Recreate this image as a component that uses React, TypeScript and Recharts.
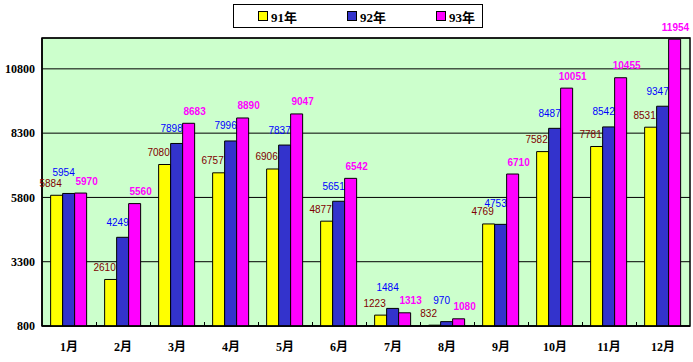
import React from "react";
import { BarChart, Bar, XAxis, YAxis, CartesianGrid, LabelList, Legend, ReferenceArea } from "recharts";

const months = ["1月", "2月", "3月", "4月", "5月", "6月", "7月", "8月", "9月", "10月", "11月", "12月"];
const y91 = [5884, 2610, 7080, 6757, 6906, 4877, 1223, 832, 4769, 7582, 7781, 8531];
const y92 = [5954, 4249, 7898, 7996, 7837, 5651, 1484, 970, 4753, 8487, 8542, 9347];
const y93 = [5970, 5560, 8683, 8890, 9047, 6542, 1313, 1080, 6710, 10051, 10455, 11954];
const yTicks = [800, 3300, 5800, 8300, 10800];
const seriesNames = ["91年", "92年", "93年"];

const data = months.map((m, i) => ({ month: m, a: y91[i], b: y92[i], c: y93[i] }));

const W = 693;
const H = 362;
const PLOT_RIGHT = 690;
const CAT_COUNT = months.length;

const makeLabel = (color: string, bold: boolean, dx: number, up: number, series: string) => (props: any) => {
  const { x, y, width, value, index } = props;
  let up2 = up;
  let dx2 = dx;
  if (series === "b") {
    // avoid collision with the 91 label when the two bars are nearly equal
    const a = y91[index];
    if (Math.abs(a - Number(value)) < 400) up2 = 21;
  }
  let cx = Number(x) + Number(width) / 2 + dx2;
  const tw = String(value).length * (bold ? 5.8 : 5.6);
  if (cx + tw / 2 > PLOT_RIGHT) cx = PLOT_RIGHT - tw / 2;
  return (
    <text
      x={cx}
      y={Number(y) - up2}
      fill={color}
      fontSize={10}
      fontWeight={bold ? "bold" : "normal"}
      fontFamily="'Liberation Sans', Arial, sans-serif"
      textAnchor="middle"
      dominantBaseline="central"
    >
      {value}
    </text>
  );
};

const XTick = (props: any) => {
  const { x, y, payload, width } = props;
  const bw = (Number(width) || 648) / CAT_COUNT;
  const lx = Math.round(x - bw / 2) + 0.5;
  return (
    <g>
      {payload.index > 0 && <line x1={lx} x2={lx} y1={y} y2={y - 4} stroke="#000" strokeWidth={1} />}
      <text
        x={x}
        y={y + 25}
        textAnchor="middle"
        fontSize={12}
        fontWeight="bold"
        fill="#000"
        fontFamily="'Liberation Serif', 'Noto Sans CJK SC', serif"
      >
        {payload.value}
      </text>
    </g>
  );
};

const colors = ["#FFFF00", "#3333CC", "#FF00FF"];

const LegendBox = () => (
  <div
    style={{
      position: "absolute",
      left: 233,
      top: 4,
      width: 250,
      height: 24,
      border: "1px solid #000",
      boxSizing: "border-box",
      background: "#fff",
    }}
  >
    {seriesNames.map((n, i) => (
      <div
        key={n}
        style={{
          position: "absolute",
          left: 24 + i * 89,
          top: 3,
          display: "flex",
          alignItems: "center",
          height: 16,
        }}
      >
        <div style={{ width: 8, height: 8, background: colors[i], border: "1px solid #000", marginRight: 3 }} />
        <span
          style={{
            fontFamily: "'Liberation Serif', 'Noto Sans CJK SC', serif",
            fontWeight: "bold",
            fontSize: 13,
            color: "#000",
          }}
        >
          {n}
        </span>
      </div>
    ))}
  </div>
);

export default function App() {
  return (
    <div style={{ position: "fixed", left: 0, top: 0, width: W, height: H, background: "#fff" }}>
      <BarChart
        width={W}
        height={H}
        data={data}
        margin={{ top: 38, right: 3, left: 0, bottom: 0 }}
        barCategoryGap="16%"
        barGap={0}
      >
        <CartesianGrid vertical={false} stroke="#000" strokeWidth={1} fill="#CCFFCC" fillOpacity={1} />
        <XAxis
          dataKey="month"
          height={36}
          tickLine={false}
          tickSize={0}
          tickMargin={0}
          axisLine={{ stroke: "#000", strokeWidth: 1.5 }}
          tick={<XTick />}
          interval={0}
        />
        <YAxis
          width={42}
          domain={[800, 12000]}
          ticks={yTicks}
          allowDataOverflow
          tickLine={false}
          tickSize={0}
          tickMargin={7}
          axisLine={{ stroke: "#000", strokeWidth: 1.5 }}
          tick={{ fill: "#000", fontSize: 12, fontWeight: "bold", fontFamily: "'Liberation Serif', serif" }}
        />
        <ReferenceArea y1={800} y2={12000} fill="none" stroke="#000" strokeWidth={1.5} ifOverflow="visible" />
        <Legend content={() => <LegendBox />} wrapperStyle={{ position: "absolute", left: 0, top: 0, width: 0, height: 0 }} />
        <Bar dataKey="a" name={seriesNames[0]} fill={colors[0]} stroke="#000" strokeWidth={1} isAnimationActive={false}>
          <LabelList dataKey="a" content={makeLabel("#800000", false, -6, 12, "a")} />
        </Bar>
        <Bar dataKey="b" name={seriesNames[1]} fill={colors[1]} stroke="#000" strokeWidth={1} isAnimationActive={false}>
          <LabelList dataKey="b" content={makeLabel("#0000FF", false, -5, 15, "b")} />
        </Bar>
        <Bar dataKey="c" name={seriesNames[2]} fill={colors[2]} stroke="#000" strokeWidth={1} isAnimationActive={false}>
          <LabelList dataKey="c" content={makeLabel("#FF00FF", true, 6, 12, "c")} />
        </Bar>
      </BarChart>
    </div>
  );
}
